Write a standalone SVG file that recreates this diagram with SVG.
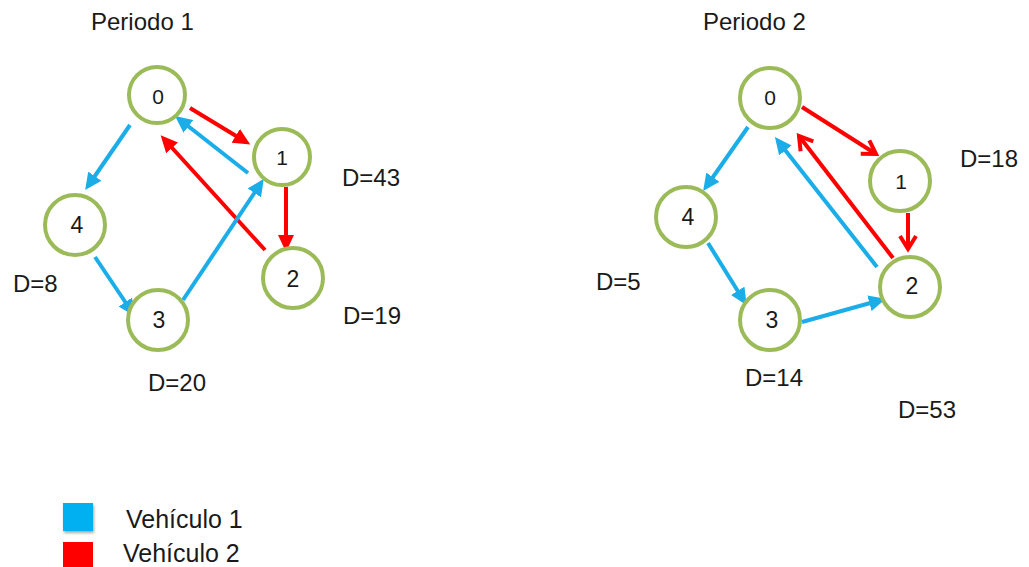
<svg xmlns="http://www.w3.org/2000/svg" width="1029" height="567" viewBox="0 0 1029 567">
  <style>
    .node circle { fill: #ffffff; stroke: #9BBB59; stroke-width: 4; }
    .node text { font-family: "Liberation Sans", Arial, sans-serif; font-size: 23px; fill: #1a1a1a; text-anchor: middle; dominant-baseline: central; }
    .node text.small { font-size: 21px; }
    .lbl { font-family: "Liberation Sans", Arial, sans-serif; font-size: 24px; fill: #1a1a1a; }
    .leg { font-family: "Liberation Sans", Arial, sans-serif; font-size: 25px; fill: #1a1a1a; }
    .blue { stroke: #1AADE8; stroke-width: 4; fill: none; marker-end: url(#headBlue); }
    .red { stroke: #FF0000; stroke-width: 4; fill: none; marker-end: url(#headRed); }
    .redOpen { stroke: #FF0000; stroke-width: 4; fill: none; marker-end: url(#headRedOpen); }
  </style>
  <defs>
    <marker id="headBlue" markerUnits="userSpaceOnUse" markerWidth="18" markerHeight="16" refX="12" refY="8" orient="auto">
      <path d="M0,0 L17,8 L0,16 z" fill="#1AADE8"/>
    </marker>
    <marker id="headRed" markerUnits="userSpaceOnUse" markerWidth="18" markerHeight="16" refX="12" refY="8" orient="auto">
      <path d="M0,0 L17,8 L0,16 z" fill="#FF0000"/>
    </marker>
    <marker id="headRedOpen" markerUnits="userSpaceOnUse" markerWidth="20" markerHeight="20" refX="16" refY="10" orient="auto">
      <path d="M3,2 L16,10 L3,18" fill="none" stroke="#FF0000" stroke-width="4" stroke-linejoin="miter"/>
    </marker>
    <filter id="shadow" x="-30%" y="-30%" width="160%" height="170%">
      <feDropShadow dx="1" dy="2" stdDeviation="1.5" flood-color="#000" flood-opacity="0.35"/>
    </filter>
  </defs>

  <!-- titles -->
  <text class="lbl" x="91" y="30">Periodo 1</text>
  <text class="lbl" x="703" y="30">Periodo 2</text>

  <!-- connectors -->
  <g id="connectors">
    <!-- period 1 -->
    <line class="blue" x1="130" y1="125" x2="88" y2="186"/>
    <line class="red" x1="190" y1="108" x2="246" y2="142"/>
    <line class="blue" x1="248" y1="173" x2="179" y2="119"/>
    <line class="red" x1="265" y1="250" x2="164" y2="139"/>
    <line class="red" x1="286" y1="187" x2="286" y2="247"/>
    <line class="blue" x1="95" y1="257" x2="132" y2="312"/>
    <line class="blue" x1="183" y1="300" x2="261" y2="183"/>
    <!-- period 2 -->
    <line class="blue" x1="748" y1="127" x2="706" y2="187"/>
    <line class="redOpen" x1="802" y1="107" x2="876" y2="154"/>
    <line class="redOpen" x1="908" y1="213" x2="908" y2="249"/>
    <line class="blue" x1="877" y1="267" x2="778" y2="141"/>
    <line class="redOpen" x1="893" y1="258" x2="799" y2="136"/>
    <line class="blue" x1="708" y1="243" x2="744" y2="301"/>
    <line class="blue" x1="802" y1="322" x2="881" y2="300"/>
  </g>

  <!-- period 1 nodes -->
  <g id="p1-n0" class="node"><circle cx="157" cy="95" r="28"/><text class="small" x="158" y="96">0</text></g>
  <g id="p1-n1" class="node"><circle cx="282" cy="157" r="28"/><text class="small" x="282" y="157">1</text></g>
  <g id="p1-n4" class="node"><circle cx="75" cy="225" r="30"/><text x="77" y="225">4</text></g>
  <g id="p1-n3" class="node"><circle cx="158" cy="320" r="30"/><text x="159" y="320">3</text></g>
  <g id="p1-n2" class="node"><circle cx="293" cy="278" r="30"/><text x="293" y="279">2</text></g>

  <!-- period 2 nodes -->
  <g id="p2-n0" class="node"><circle cx="770" cy="98" r="30"/><text class="small" x="770" y="97">0</text></g>
  <g id="p2-n1" class="node"><circle cx="900" cy="181" r="30"/><text class="small" x="901" y="181">1</text></g>
  <g id="p2-n4" class="node"><circle cx="686" cy="217" r="30"/><text x="688" y="217">4</text></g>
  <g id="p2-n3" class="node"><circle cx="770" cy="320" r="30"/><text x="772" y="320">3</text></g>
  <g id="p2-n2" class="node"><circle cx="910" cy="287" r="30"/><text x="912" y="286">2</text></g>

  <!-- demand labels -->
  <g id="demands">
    <text class="lbl" x="342" y="186">D=43</text>
    <text class="lbl" x="343" y="324">D=19</text>
    <text class="lbl" x="13" y="292">D=8</text>
    <text class="lbl" x="148" y="391">D=20</text>
    <text class="lbl" x="960" y="167">D=18</text>
    <text class="lbl" x="596" y="290">D=5</text>
    <text class="lbl" x="745" y="386">D=14</text>
    <text class="lbl" x="898" y="418">D=53</text>
  </g>

  <!-- legend -->
  <g id="legend">
    <rect x="63" y="503" width="30" height="28" fill="#00B0F0" filter="url(#shadow)"/>
    <text class="leg" x="126" y="528">Vehículo 1</text>
    <rect x="63" y="542" width="30" height="28" fill="#FF0000"/>
    <text class="leg" x="123" y="562">Vehículo 2</text>
  </g>
</svg>
